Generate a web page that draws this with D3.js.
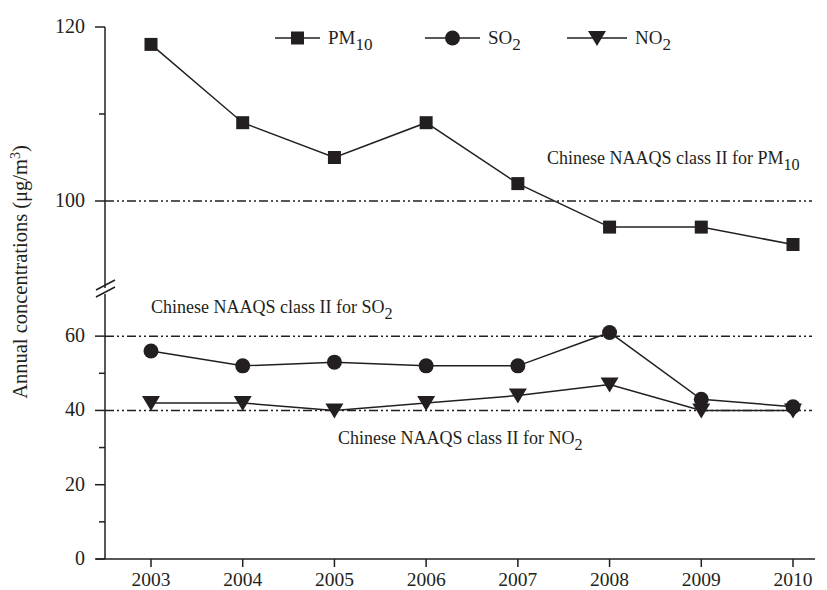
<!DOCTYPE html>
<html>
<head>
<meta charset="utf-8">
<script src="https://cdn.jsdelivr.net/npm/d3@7"></script>
<style>
  body { margin: 0; background: #fff; }
  svg text { font-family: "Liberation Serif", "Times New Roman", serif; fill: #231f20; }
</style>
</head>
<body>
<svg id="chart" width="827" height="590"></svg>
<script>
const years = [2003, 2004, 2005, 2006, 2007, 2008, 2009, 2010];
const pm10 = [118, 109, 105, 109, 102, 97, 97, 95];
const so2 = [56, 52, 53, 52, 52, 61, 43, 41];
const no2 = [42, 42, 40, 42, 44, 47, 40, 40];
const upperTicks = [100, 120];
const upperMinor = [110];
const lowerTicks = [0, 20, 40, 60];
const lowerMinor = [10, 30, 50];
const standards = { pm10: 100, so2: 60, no2: 40 };

const svg = d3.select("#chart");
const ink = "#231f20";

const x = d3.scalePoint().domain(years).range([151, 793]);
const yUp = d3.scaleLinear().domain([90, 120]).range([288, 27]);
const yLo = d3.scaleLinear().domain([0, 70]).range([559, 299]);

const axisX0 = 105, xRight = 812;

// y axis line
svg.append("line").attr("x1", axisX0).attr("x2", axisX0).attr("y1", yUp(120)).attr("y2", yLo(0))
  .attr("stroke", ink).attr("stroke-width", 1.5);
// break marks
svg.append("rect").attr("x", axisX0 - 3).attr("y", 288).attr("width", 6).attr("height", 6).attr("fill", "#fff");
[0, 7].forEach(d => {
  svg.append("line").attr("x1", axisX0 - 9).attr("x2", axisX0 + 10)
    .attr("y1", 290 + d).attr("y2", 280 + d)
    .attr("stroke", ink).attr("stroke-width", 1.5);
});

// x axis
svg.append("line").attr("x1", 96).attr("x2", xRight + 3).attr("y1", yLo(0)).attr("y2", yLo(0))
  .attr("stroke", ink).attr("stroke-width", 1.5);
svg.selectAll(".xt").data(years).enter().append("line")
  .attr("x1", d => x(d)).attr("x2", d => x(d)).attr("y1", yLo(0)).attr("y2", yLo(0) + 8)
  .attr("stroke", ink).attr("stroke-width", 1.5);
svg.selectAll(".xl").data(years).enter().append("text")
  .attr("x", d => x(d)).attr("y", 586).attr("text-anchor", "middle")
  .attr("font-size", 19.5).text(d => d);

// y ticks
function yticks(scale, major, minor) {
  svg.append("g").selectAll("line").data(major).enter().append("line")
    .attr("x1", axisX0 - 10).attr("x2", axisX0).attr("y1", d => scale(d)).attr("y2", d => scale(d))
    .attr("stroke", ink).attr("stroke-width", 1.5);
  svg.append("g").selectAll("line").data(minor).enter().append("line")
    .attr("x1", axisX0 - 6).attr("x2", axisX0).attr("y1", d => scale(d)).attr("y2", d => scale(d))
    .attr("stroke", ink).attr("stroke-width", 1.5);
  svg.append("g").selectAll("text").data(major).enter().append("text")
    .attr("x", axisX0 - 20).attr("y", d => scale(d) + 6).attr("text-anchor", "end")
    .attr("font-size", 20).text(d => d);
}
yticks(yUp, upperTicks, upperMinor);
yticks(yLo, lowerTicks, lowerMinor);

// standard lines
const dash = "9,3,2,3,2,3";
[[yUp, standards.pm10], [yLo, standards.so2], [yLo, standards.no2]].forEach(([s, v]) => {
  svg.append("line").attr("x1", axisX0).attr("x2", xRight).attr("y1", s(v)).attr("y2", s(v))
    .attr("stroke", ink).attr("stroke-width", 1.5).attr("stroke-dasharray", dash);
});

// labels with subscript
function subLabel(xp, yp, main, sub, sz) {
  const t = svg.append("text").attr("x", xp).attr("y", yp).attr("font-size", sz);
  t.append("tspan").text(main);
  t.append("tspan").attr("dy", 6).attr("font-size", sz * 0.9).text(sub);
  return t;
}
subLabel(547, 164, "Chinese NAAQS class II for PM", "10", 18);
subLabel(151, 313, "Chinese NAAQS class II for SO", "2", 18);
subLabel(338, 444, "Chinese NAAQS class II for NO", "2", 18);

// series
const series = [
  { vals: pm10, scale: yUp, marker: "square" },
  { vals: so2, scale: yLo, marker: "circle" },
  { vals: no2, scale: yLo, marker: "triangle" }
];
function drawMarker(g, type, cx, cy) {
  if (type === "square") {
    g.append("rect").attr("x", cx - 6.5).attr("y", cy - 6.5).attr("width", 13).attr("height", 13).attr("fill", ink);
  } else if (type === "circle") {
    g.append("circle").attr("cx", cx).attr("cy", cy).attr("r", 7.5).attr("fill", ink);
  } else {
    g.append("path").attr("d", `M${cx - 9},${cy - 7}L${cx + 9},${cy - 7}L${cx},${cy + 8}Z`).attr("fill", ink);
  }
}
series.forEach(s => {
  const line = d3.line().x((d, i) => x(years[i])).y(d => s.scale(d));
  svg.append("path").attr("d", line(s.vals)).attr("fill", "none").attr("stroke", ink).attr("stroke-width", 1.5);
  const g = svg.append("g");
  s.vals.forEach((v, i) => drawMarker(g, s.marker, x(years[i]), s.scale(v)));
});

// legend
const legend = [
  { x1: 275, x2: 320, name: "PM", sub: "10", marker: "square" },
  { x1: 425, x2: 480, name: "SO", sub: "2", marker: "circle" },
  { x1: 567, x2: 627, name: "NO", sub: "2", marker: "triangle" }
];
legend.forEach(l => {
  const ly = 38;
  svg.append("line").attr("x1", l.x1).attr("x2", l.x2).attr("y1", ly).attr("y2", ly).attr("stroke", ink).attr("stroke-width", 1.5);
  drawMarker(svg.append("g"), l.marker, (l.x1 + l.x2) / 2, ly);
  subLabel(l.x2 + 8, ly + 6, l.name, l.sub, 19);
});

// y title
const yt = svg.append("text").attr("transform", "translate(27,272) rotate(-90)")
  .attr("text-anchor", "middle").attr("font-size", 20.5);
yt.append("tspan").text("Annual concentrations (μg/m");
yt.append("tspan").attr("dy", -7).attr("font-size", 14).text("3");
yt.append("tspan").attr("dy", 7).text(")");
</script>
</body>
</html>
